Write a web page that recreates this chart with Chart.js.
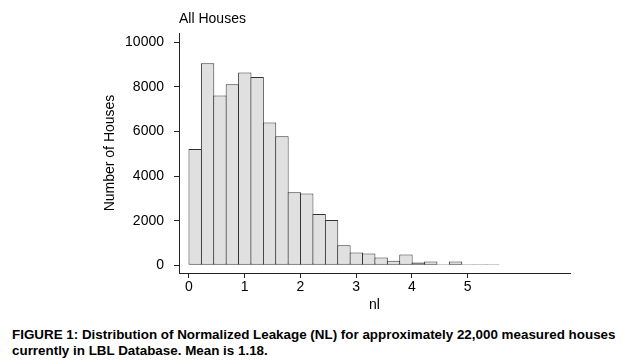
<!DOCTYPE html>
<html>
<head>
<meta charset="utf-8">
<script src="https://cdn.jsdelivr.net/npm/chart.js@4"></script>
<style>
  html, body { margin: 0; padding: 0; background: #fff; }
  #wrap { position: relative; width: 624px; height: 360px; }
  #c { position: absolute; left: 0; top: 0; }
  #caption { position: absolute; left: 12px; top: 326.5px; font: bold 13.4px "Liberation Sans", Arial, sans-serif; line-height: 16px; color: #000; white-space: nowrap; }
</style>
</head>
<body>
<div id="wrap">
  <canvas id="c" width="624" height="320"></canvas>
  <div id="caption">FIGURE 1: Distribution of Normalized Leakage (NL) for approximately 22,000 measured houses<br>currently in LBL Database. Mean is 1.18.</div>
</div>
<script>
// Bin centres (nl) and counts
const binCenters = [0.111, 0.334, 0.556, 0.778, 1.001, 1.223, 1.446, 1.668, 1.890, 2.113,
                    2.335, 2.558, 2.780, 3.002, 3.225, 3.447, 3.670, 3.892, 4.114, 4.337,
                    4.559, 4.782, 5.004, 5.226, 5.449];
const counts = [5220, 9060, 7610, 8120, 8650, 8440, 6400, 5790, 3280, 3220,
                2300, 2030, 900, 570, 530, 355, 200, 490, 130, 175,
                50, 175, 45, 45, 45];
const xTicks = [0, 1, 2, 3, 4, 5];
const yTicks = [0, 2000, 4000, 6000, 8000, 10000];
const chartTitle = 'All Houses';
const xTitle = 'nl';
const yTitle = 'Number of Houses';

const FONT = '"Liberation Sans", Arial, sans-serif';
const AXIS = '#222';

new Chart(document.getElementById('c'), {
  type: 'bar',
  data: {
    datasets: [{
      data: binCenters.map((x, i) => ({ x: x, y: counts[i] })),
      backgroundColor: '#e0e0e0',
      borderColor: '#333333',
      borderWidth: 1,
      borderSkipped: false,
      barPercentage: 1.08,
      categoryPercentage: 1
    }]
  },
  options: {
    responsive: false,
    animation: false,
    layout: { padding: { left: 0, right: 54, top: 0, bottom: 0 } },
    plugins: {
      legend: { display: false },
      tooltip: { enabled: false },
      title: {
        display: true, text: chartTitle, align: 'start', fullSize: false,
        color: '#000', font: { family: FONT, size: 14, weight: 'normal', lineHeight: 1.2 },
        padding: { top: 10.6, bottom: 5.6 }
      }
    },
    scales: {
      x: {
        type: 'linear', min: -0.179, max: 6.835, offset: false,
        afterBuildTicks: s => { s.ticks = xTicks.map(v => ({ value: v })); },
        afterFit: s => { s.height = 47; },
        grid: { display: true, offset: false, drawOnChartArea: false, drawTicks: true, tickLength: 5, color: AXIS, lineWidth: 1 },
        border: { display: true, color: AXIS, width: 1 },
        ticks: { color: '#000', padding: 1, font: { family: FONT, size: 14 }, maxRotation: 0, autoSkip: false,
                 callback: v => String(v) },
        title: { display: true, text: xTitle, color: '#000', font: { family: FONT, size: 14 }, padding: { top: 0, bottom: 6.6 } }
      },
      y: {
        type: 'linear', min: -345, max: 10417,
        afterBuildTicks: s => { s.ticks = yTicks.map(v => ({ value: v })); },
        afterFit: s => { s.width = 179; },
        grid: { display: true, drawOnChartArea: false, drawTicks: true, tickLength: 5, color: AXIS, lineWidth: 1 },
        border: { display: true, color: AXIS, width: 1 },
        ticks: { color: '#000', padding: 10, font: { family: FONT, size: 14 }, callback: v => String(v) },
        title: { display: true, text: yTitle, color: '#000', font: { family: FONT, size: 14 }, padding: { top: 101.6, bottom: 0 } }
      }
    }
  }
});
</script>
</body>
</html>
